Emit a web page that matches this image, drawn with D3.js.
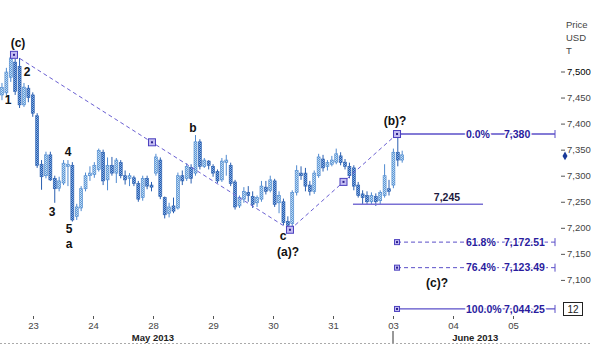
<!DOCTYPE html>
<html><head><meta charset="utf-8">
<script src="https://cdn.jsdelivr.net/npm/d3@7"></script>
<style>
html,body{margin:0;padding:0;background:#fff;}
svg{display:block;font-family:"Liberation Sans",Arial,sans-serif;}
</style></head>
<body><svg id="c" width="592" height="344"></svg>
<script>
// ---- data ----
const dayLabels = ["23","24","28","29","30","31","03","04","05"];
const monthLabels = ["May 2013","June 2013"];
const monthPos = [2, 7.37];
const priceTicks = [7500,7450,7400,7350,7300,7250,7200,7150,7100];
const opens  = [7455,7459,7489,7518,7510,7436,7468,7455,7415,7322,7300,7340,7295,7276,7286,7318,7320,7222,7238,7275,7300,7302,7312,7345,7292,7320,7305,7325,7300,7295,7296,7285,7258,7295,7282,7305,7330,7258,7228,7242,7238,7300,7295,7316,7305,7365,7318,7328,7318,7308,7292,7325,7320,7288,7242,7255,7268,7260,7248,7255,7278,7272,7290,7248,7250,7212,7208,7268,7305,7305,7282,7270,7300,7332,7318,7322,7326,7338,7326,7318,7315,7282,7265,7262,7250,7260,7252,7262,7275,7282,7345,7330];
const highs  = [7478,7507,7532,7524,7526,7478,7474,7460,7420,7330,7346,7346,7300,7298,7330,7330,7326,7246,7280,7306,7318,7326,7352,7350,7335,7336,7334,7330,7310,7305,7300,7290,7300,7300,7288,7342,7335,7260,7248,7258,7306,7310,7324,7322,7378,7370,7334,7330,7322,7312,7334,7340,7325,7292,7262,7278,7280,7270,7262,7290,7290,7300,7294,7270,7256,7222,7272,7320,7318,7315,7290,7310,7342,7340,7330,7338,7352,7345,7332,7325,7320,7288,7272,7270,7268,7266,7272,7322,7292,7352,7380,7348];
const lows   = [7445,7451,7480,7455,7430,7432,7441,7413,7315,7273,7295,7290,7248,7270,7282,7280,7212,7215,7232,7270,7290,7296,7308,7282,7272,7300,7286,7295,7283,7280,7280,7250,7252,7274,7270,7300,7255,7218,7220,7228,7235,7282,7290,7285,7300,7312,7315,7312,7298,7286,7288,7300,7280,7235,7238,7248,7250,7238,7240,7250,7264,7268,7240,7228,7205,7196,7200,7262,7292,7270,7262,7265,7296,7308,7310,7318,7322,7320,7312,7295,7272,7258,7245,7244,7244,7242,7245,7258,7262,7276,7318,7325];
const closes = [7469,7499,7526,7462,7436,7470,7450,7420,7320,7298,7340,7292,7275,7290,7324,7322,7215,7240,7275,7300,7305,7320,7348,7290,7320,7305,7330,7300,7292,7300,7285,7255,7295,7280,7278,7336,7260,7225,7240,7232,7300,7290,7318,7295,7365,7318,7330,7320,7305,7290,7328,7330,7285,7240,7258,7270,7262,7245,7258,7280,7270,7292,7245,7262,7210,7205,7268,7310,7300,7280,7270,7305,7336,7315,7325,7330,7342,7325,7318,7300,7280,7262,7258,7250,7262,7250,7268,7300,7270,7345,7330,7340];
// wave pivots (trading-day position, price)
const waveT = [-0.317, 4.283, 6.067];
const waveV = [7532, 7196.25, 7380];
// fibonacci levels
const fibPct = ["0.0%","61.8%","76.4%","100.0%"];
const fibVal = [7380, 7172.51, 7123.49, 7044.25];
const fibSolid = [true,false,false,true];
// wave labels
const lblText = ["(c)","2","1","3","4","5","a","b","c","(a)?","(b)?","(c)?"];
const lblT    = [-0.25,-0.10,-0.417,0.317,0.583,0.6,0.6,2.667,4.167,4.25,6.033,6.733];
const lblV    = [7555,7499,7445,7230,7346,7198,7170,7392,7184,7154,7405,7094];
const supportVal = 7245;
const lastPrice = 7338;

// ---- scales ----
const svg = d3.select("#c");
const x = d3.scaleLinear().domain([0,8]).range([33,513]);
const y = d3.scaleLinear().domain([7100,7500]).range([279.9,71.5]);
const t0 = -0.517, dt = 0.0733;

// patterns (stipple)
const defs = svg.append("defs");
function pat(id,a,b){
  const p = defs.append("pattern").attr("id",id).attr("width",2).attr("height",2).attr("patternUnits","userSpaceOnUse");
  p.append("rect").attr("width",2).attr("height",2).attr("fill",a);
  p.append("rect").attr("width",1).attr("height",1).attr("fill",b);
  p.append("rect").attr("x",1).attr("y",1).attr("width",1).attr("height",1).attr("fill",b);
}
pat("bull","#c4dcf2","#5e9ad8");
pat("bear","#86b2e0","#2458b2");

// ---- candles ----
const cg = svg.append("g");
opens.forEach((o,i)=>{
  const cx = x(t0 + i*dt);
  const c = closes[i], up = c >= o;
  cg.append("line").attr("x1",cx).attr("x2",cx).attr("y1",y(highs[i])).attr("y2",y(lows[i]))
    .attr("stroke", up ? "#4f8ad0" : "#2a5fb0").attr("stroke-width",1);
  const top = y(Math.max(o,c)), bot = y(Math.min(o,c));
  cg.append("rect").attr("x",cx-1.5).attr("y",top).attr("width",3).attr("height",Math.max(1,bot-top))
    .attr("fill", up ? "url(#bull)" : "url(#bear)")
    .attr("stroke", up ? "#4f8ad0" : "#2a5fb0").attr("stroke-width",0.6);
});

// ---- wave lines ----
const purple = "#6a5fd2";
function box(px,py,s){
  svg.append("rect").attr("x",px-s/2).attr("y",py-s/2).attr("width",s).attr("height",s)
    .attr("fill","#c4bdf2").attr("stroke","#4a3fbe").attr("stroke-width",1);
  svg.append("rect").attr("x",px-1).attr("y",py-1).attr("width",2).attr("height",2).attr("fill","#2a1f8e");
}
for(let k=0;k<waveT.length-1;k++){
  svg.append("line").attr("x1",x(waveT[k])).attr("y1",y(waveV[k]))
    .attr("x2",x(waveT[k+1])).attr("y2",y(waveV[k+1]))
    .attr("stroke",purple).attr("stroke-width",1).attr("stroke-dasharray","4,3");
}
for(let k=0;k<waveT.length-1;k++){
  box((x(waveT[k])+x(waveT[k+1]))/2,(y(waveV[k])+y(waveV[k+1]))/2,7);
}

// ---- support line ----
svg.append("line").attr("x1",x(5.333)).attr("x2",x(7.5)).attr("y1",y(supportVal)).attr("y2",y(supportVal))
  .attr("stroke","#7a70d4").attr("stroke-width",1.5);
svg.append("text").attr("x",x(6.9)).attr("y",y(supportVal)-3).attr("text-anchor","middle")
  .attr("font-size",10.5).attr("font-weight","bold").attr("fill","#1c1a40").text(d3.format(",")(supportVal));

// ---- fib levels ----
const fibStartT = waveT[2], fibEndT = 8.7;
fibVal.forEach((v,k)=>{
  const yy = y(v);
  svg.append("line").attr("x1",x(fibStartT)).attr("x2",x(fibEndT)).attr("y1",yy).attr("y2",yy)
    .attr("stroke","#5a4fc8").attr("stroke-width",fibSolid[k]?1.3:1)
    .attr("stroke-dasharray",fibSolid[k]?null:"4,3");
  svg.append("line").attr("x1",x(fibEndT)).attr("x2",x(fibEndT)).attr("y1",yy-4).attr("y2",yy+4)
    .attr("stroke","#5a4fc8").attr("stroke-width",1);
  if(k>0) box(x(fibStartT), yy, 5);
  const tx = svg.append("g");
  tx.append("text").attr("x",466).attr("y",yy).attr("dy","0.35em").attr("font-size",10.5).attr("font-weight","bold")
    .attr("fill","#2a1c9e").attr("stroke","#fff").attr("stroke-width",3).attr("paint-order","stroke").text(fibPct[k]);
  tx.append("text").attr("x",504).attr("y",yy).attr("dy","0.35em").attr("font-size",10.5).attr("font-weight","bold")
    .attr("fill","#2a1c9e").attr("stroke","#fff").attr("stroke-width",3).attr("paint-order","stroke")
    .text(d3.format(v%1===0?",":",.2f")(v));
});
// pivot boxes
waveT.forEach((t,k)=>box(x(t),y(waveV[k]),7));

// ---- wave labels ----
lblText.forEach((s,k)=>{
  svg.append("text").attr("x",x(lblT[k])).attr("y",y(lblV[k])).attr("dy","0.35em")
    .attr("text-anchor","middle").attr("font-size",12).attr("font-weight","bold").attr("fill","#111").text(s);
});

// ---- right axis ----
const ra = svg.append("g").attr("transform","translate(561,0)")
  .call(d3.axisRight(y).tickValues(priceTicks).tickFormat(d3.format(",")).tickSize(4).tickPadding(2));
ra.select(".domain").remove();
ra.selectAll(".tick line").attr("stroke","#555");
ra.selectAll(".tick text").attr("font-size",9.5).attr("fill","#444").attr("font-family","Liberation Sans, Arial, sans-serif");
ra.selectAll(".tick").filter(d=>d===7500).select("text").attr("fill","#000");
["Price","USD","T"].forEach((s,k)=>svg.append("text").attr("x",566).attr("y",28+k*13)
  .attr("font-size",9.5).attr("fill","#444").text(s));
// last price marker
svg.append("path").attr("d",d3.symbol(d3.symbolDiamond,22)()).attr("transform",`translate(565,${y(lastPrice)})`).attr("fill","#1a3a9a");
// period box
svg.append("rect").attr("x",563.5).attr("y",302.5).attr("width",19).attr("height",13).attr("fill","#fff").attr("stroke","#222");
svg.append("text").attr("x",573).attr("y",313).attr("text-anchor","middle").attr("font-size",10).attr("fill","#222").text("12");

// ---- bottom axis ----
const ba = svg.append("g").attr("transform","translate(0,316)")
  .call(d3.axisBottom(x).tickValues(d3.range(dayLabels.length)).tickFormat(i=>dayLabels[i]).tickSize(3).tickPadding(3));
ba.select(".domain").remove();
ba.selectAll(".tick line").attr("stroke","#555");
ba.selectAll(".tick text").attr("font-size",9.5).attr("fill","#444").attr("font-family","Liberation Sans, Arial, sans-serif");
monthLabels.forEach((s,k)=>svg.append("text").attr("x",x(monthPos[k])).attr("y",341).attr("text-anchor","middle")
  .attr("font-size",9.5).attr("font-weight","bold").attr("fill","#222").text(s));
svg.append("line").attr("x1",x(6)).attr("x2",x(6)).attr("y1",331).attr("y2",344).attr("stroke","#333");
svg.append("line").attr("x1",0).attr("x2",592).attr("y1",343.5).attr("y2",343.5).attr("stroke","#aaa").attr("stroke-dasharray","2,2");
</script></body></html>
